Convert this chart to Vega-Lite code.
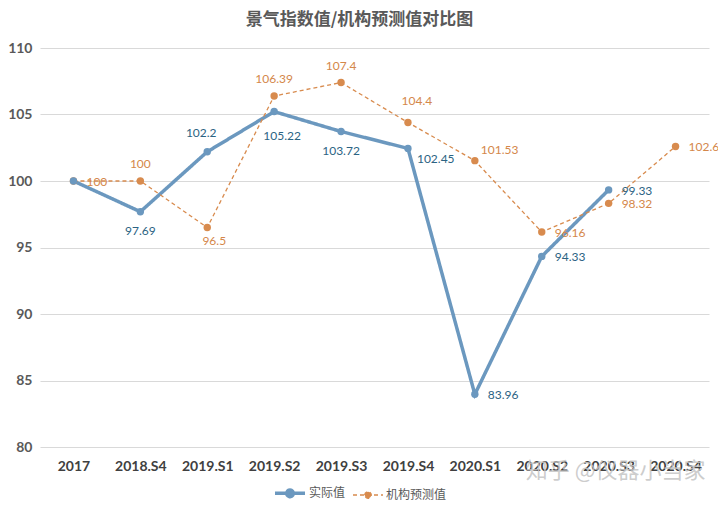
{
  "$schema": "https://vega.github.io/schema/vega-lite/v6.json",
  "width": 669,
  "height": 399,
  "autosize": {"type": "none"},
  "padding": {"left": 40, "top": 48, "right": 9, "bottom": 60},
  "background": "#ffffff",
  "title": {
    "text": "景气指数值/机构预测值对比图",
    "anchor": "middle",
    "frame": "group",
    "dx": -15,
    "offset": 12,
    "font": "Noto Sans CJK SC",
    "fontSize": 17,
    "fontWeight": "bold",
    "color": "#595959"
  },
  "config": {
    "view": {"stroke": null},
    "axis": {"labelFont": "Lato", "titleFont": "Noto Sans CJK SC"},
    "legend": {"labelFont": "Noto Sans CJK SC"}
  },
  "data": {
    "values": [
      {"period": "2017", "series": "实际值", "value": 100},
      {"period": "2018.S4", "series": "实际值", "value": 97.69},
      {"period": "2019.S1", "series": "实际值", "value": 102.2},
      {"period": "2019.S2", "series": "实际值", "value": 105.22},
      {"period": "2019.S3", "series": "实际值", "value": 103.72},
      {"period": "2019.S4", "series": "实际值", "value": 102.45},
      {"period": "2020.S1", "series": "实际值", "value": 83.96},
      {"period": "2020.S2", "series": "实际值", "value": 94.33},
      {"period": "2020.S3", "series": "实际值", "value": 99.33},
      {"period": "2017", "series": "机构预测值", "value": 100},
      {"period": "2018.S4", "series": "机构预测值", "value": 100},
      {"period": "2019.S1", "series": "机构预测值", "value": 96.5},
      {"period": "2019.S2", "series": "机构预测值", "value": 106.39},
      {"period": "2019.S3", "series": "机构预测值", "value": 107.4},
      {"period": "2019.S4", "series": "机构预测值", "value": 104.4},
      {"period": "2020.S1", "series": "机构预测值", "value": 101.53},
      {"period": "2020.S2", "series": "机构预测值", "value": 96.16},
      {"period": "2020.S3", "series": "机构预测值", "value": 98.32},
      {"period": "2020.S4", "series": "机构预测值", "value": 102.6}
    ]
  },
  "encoding": {
    "x": {
      "field": "period",
      "type": "ordinal",
      "sort": ["2017", "2018.S4", "2019.S1", "2019.S2", "2019.S3", "2019.S4", "2020.S1", "2020.S2", "2020.S3", "2020.S4"],
      "scale": {"type": "point", "padding": 0.5},
      "axis": {
        "title": "知乎 @仪器小当家",
        "titleAnchor": "end",
        "titleFont": "Noto Sans CJK SC",
        "titleFontSize": 22,
        "titleFontWeight": "normal",
        "titleColor": "#c4c4c4",
        "titleOpacity": 0.85,
        "titlePadding": -13,
        "titleX": 665,
        "labelAngle": 0,
        "labelFontSize": 14,
        "labelFontWeight": "bold",
        "labelColor": "#404040",
        "labelPadding": 12,
        "domain": false,
        "ticks": false,
        "grid": false
      }
    },
    "y": {
      "field": "value",
      "type": "quantitative",
      "scale": {"domain": [80, 110], "nice": false, "zero": false},
      "axis": {
        "title": null,
        "values": [80, 85, 90, 95, 100, 105, 110],
        "labelFontSize": 14,
        "labelFontWeight": "bold",
        "labelColor": "#595959",
        "labelPadding": 8,
        "domain": false,
        "ticks": false,
        "grid": true,
        "gridColor": "#d9d9d9",
        "gridWidth": 1
      }
    }
  },
  "layer": [
    {
      "mark": {"type": "line", "point": {"filled": true, "size": 55, "opacity": 1}},
      "encoding": {
        "color": {
          "field": "series",
          "type": "nominal",
          "scale": {"domain": ["实际值", "机构预测值"], "range": ["#6b98bf", "#d88b4e"]},
          "legend": {
            "title": null,
            "orient": "none",
            "legendX": 233,
            "legendY": 428,
            "direction": "horizontal",
            "symbolType": "M-1,0H1M-0.22,0A0.22,0.22 0 1,1 0.22,0A0.22,0.22 0 1,1 -0.22,0",
            "symbolSize": 900,
            "symbolStrokeWidth": 2.2,
            "labelFontSize": 12,
            "labelColor": "#595959",
            "labelOffset": 2,
            "columnPadding": 4,
            "encode": {"symbols": {"update": {"fill": {"scale": "color", "field": "value"}}}}
          }
        },
        "strokeDash": {
          "field": "series",
          "type": "nominal",
          "scale": {"domain": ["实际值", "机构预测值"], "range": [[1, 0], [4, 3]]},
          "legend": null
        },
        "strokeWidth": {
          "field": "series",
          "type": "nominal",
          "scale": {"domain": ["实际值", "机构预测值"], "range": [3.5, 1.3]},
          "legend": null
        },
        "order": {"field": "series", "sort": "descending"}
      }
    },
    {
      "transform": [{"filter": {"and": [{"field": "series", "equal": "实际值"}, {"field": "period", "oneOf": ["2018.S4", "2019.S3"]}]}}],
      "mark": {"type": "text", "dy": 19, "font": "Lato", "fontSize": 12, "color": "#2b6383"},
      "encoding": {"text": {"field": "value", "type": "quantitative"}}
    },
    {
      "transform": [{"filter": {"and": [{"field": "series", "equal": "实际值"}, {"field": "period", "equal": "2019.S2"}]}}],
      "mark": {"type": "text", "dx": 8, "dy": 24, "font": "Lato", "fontSize": 12, "color": "#2b6383"},
      "encoding": {"text": {"field": "value", "type": "quantitative"}}
    },
    {
      "transform": [{"filter": {"and": [{"field": "series", "equal": "实际值"}, {"field": "period", "equal": "2019.S1"}]}}],
      "mark": {"type": "text", "dx": -6, "dy": -19, "font": "Lato", "fontSize": 12, "color": "#2b6383"},
      "encoding": {"text": {"field": "value", "type": "quantitative"}}
    },
    {
      "transform": [{"filter": {"and": [{"field": "series", "equal": "实际值"}, {"field": "period", "equal": "2019.S4"}]}}],
      "mark": {"type": "text", "align": "left", "dx": 9, "dy": 11, "font": "Lato", "fontSize": 12, "color": "#2b6383"},
      "encoding": {"text": {"field": "value", "type": "quantitative"}}
    },
    {
      "transform": [{"filter": {"and": [{"field": "series", "equal": "实际值"}, {"field": "period", "oneOf": ["2020.S1", "2020.S2", "2020.S3"]}]}}],
      "mark": {"type": "text", "align": "left", "dx": 13, "dy": 1, "font": "Lato", "fontSize": 12, "color": "#2b6383"},
      "encoding": {"text": {"field": "value", "type": "quantitative"}}
    },
    {
      "transform": [{"filter": {"and": [{"field": "series", "equal": "机构预测值"}, {"field": "period", "oneOf": ["2018.S4", "2019.S2", "2019.S3"]}]}}],
      "mark": {"type": "text", "dy": -17, "font": "Lato", "fontSize": 12, "color": "#d4874a"},
      "encoding": {"text": {"field": "value", "type": "quantitative"}}
    },
    {
      "transform": [{"filter": {"and": [{"field": "series", "equal": "机构预测值"}, {"field": "period", "equal": "2019.S4"}]}}],
      "mark": {"type": "text", "dx": 9, "dy": -21, "font": "Lato", "fontSize": 12, "color": "#d4874a"},
      "encoding": {"text": {"field": "value", "type": "quantitative"}}
    },
    {
      "transform": [{"filter": {"and": [{"field": "series", "equal": "机构预测值"}, {"field": "period", "equal": "2019.S1"}]}}],
      "mark": {"type": "text", "dx": 7, "dy": 13, "font": "Lato", "fontSize": 12, "color": "#d4874a"},
      "encoding": {"text": {"field": "value", "type": "quantitative"}}
    },
    {
      "transform": [{"filter": {"and": [{"field": "series", "equal": "机构预测值"}, {"field": "period", "oneOf": ["2017", "2020.S2", "2020.S3", "2020.S4"]}]}}],
      "mark": {"type": "text", "align": "left", "dx": 13, "dy": 1, "font": "Lato", "fontSize": 12, "color": "#d4874a"},
      "encoding": {"text": {"field": "value", "type": "quantitative"}}
    },
    {
      "transform": [{"filter": {"and": [{"field": "series", "equal": "机构预测值"}, {"field": "period", "equal": "2020.S1"}]}}],
      "mark": {"type": "text", "align": "left", "dx": 6, "dy": -11, "font": "Lato", "fontSize": 12, "color": "#d4874a"},
      "encoding": {"text": {"field": "value", "type": "quantitative"}}
    }
  ]
}
